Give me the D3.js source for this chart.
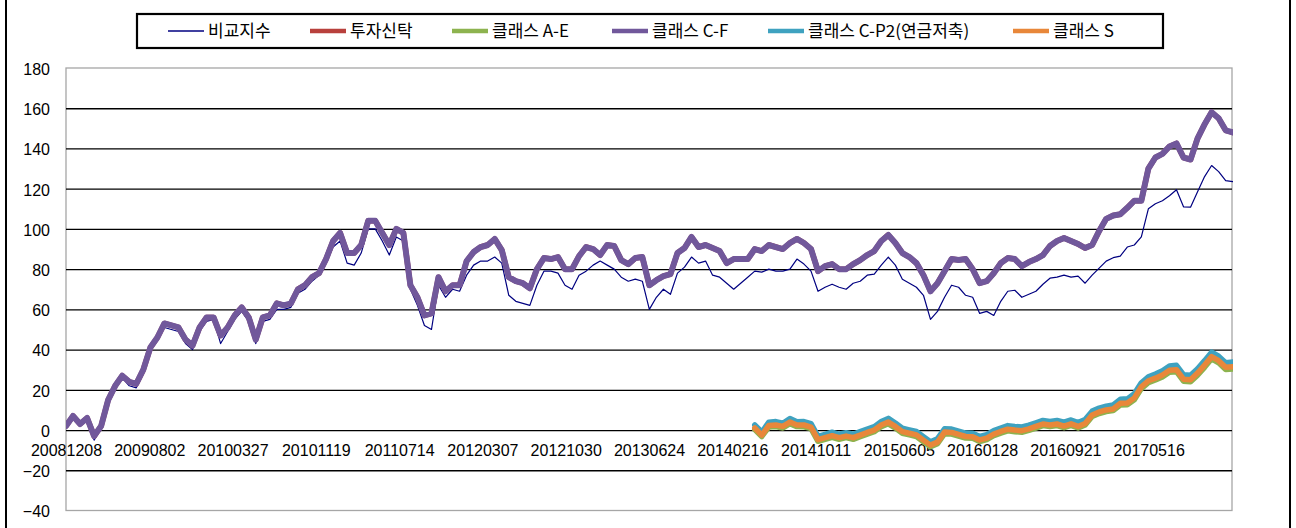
<!DOCTYPE html>
<html><head><meta charset="utf-8">
<script src="https://cdn.jsdelivr.net/npm/d3@7"></script>
<style>
html,body{margin:0;padding:0;background:#fff;}
svg{display:block;}
</style></head>
<body>
<svg id="chart" width="1296" height="528"></svg>
<script>
// ---------- DATA ----------
const startDate = "2008-12-08";      // first observation
const sampleStepDays = 20;           // spacing of the sampled observations
const axisSpanDays = 3318;           // span of the category axis
const tickLabels = ["20081208","20090802","20100327","20101119","20110714","20120307","20121030","20130624","20140216","20141011","20150605","20160128","20160921","20170516"];
const yTicks = [-40,-20,0,20,40,60,80,100,120,140,160,180];

const seriesNames = ["비교지수","투자신탁","클래스 A-E","클래스 C-F","클래스 C-P2(연금저축)","클래스 S"];

// 비교지수 (benchmark)
const benchmark = [
 1, 6, 2, 5, -5, 1, 13, 21, 26, 22,
 21, 28, 40, 45, 51, 50, 49, 43, 40, 49,
 54, 55, 43, 49, 55, 59, 54, 43, 54, 55,
 60, 60, 61, 68, 70, 74, 77, 83, 91, 94,
 83, 82, 88, 100, 100, 94, 87, 96, 94, 70,
 62, 52, 50, 72, 66, 70, 69, 77, 82, 84,
 84, 86, 83, 67, 64, 63, 62, 72, 79, 79,
 78, 72, 70, 77, 79, 82, 84, 82, 80, 76,
 74, 75, 74, 60, 66, 70, 67.5, 78, 81, 86,
 83, 84, 77, 76, 73, 70, 73, 76, 79, 78.5,
 80, 79, 79, 80, 85, 82.5, 79, 69, 71, 72.5,
 71, 70, 73, 74, 77, 77.5, 82, 86, 82, 75,
 73, 71, 67, 55, 59, 66, 72, 71, 67, 66,
 58, 59, 57, 64, 69, 69.5, 66, 67.5, 69, 72.5,
 75.5, 76, 77, 76, 76.5, 73, 77, 80.5, 84, 85.7,
 86.5, 91, 92, 96, 110, 112.5, 114, 116.5, 119.5, 111,
 110.8, 118.5, 126, 131.5, 128.5, 124, 123.5
];
// 투자신탁 (lies under 클래스 C-F)
const trust = [
 2, 7, 3, 6, -3, 2, 15, 22, 27, 24,
 23, 30, 41, 46, 53, 52, 51, 45, 42, 51,
 56, 56, 47, 51, 57, 61, 56, 45, 56, 57,
 63, 62, 63, 70, 72, 76, 78, 85, 94, 98,
 88, 88, 92, 104, 104, 98, 92, 100, 98, 72,
 66, 57, 58, 76, 69, 72, 72, 84, 88.5, 91,
 92, 95, 89.5, 76, 74, 73, 70.5, 80, 85.5, 85,
 86, 80, 80, 86.5, 91, 90, 87, 92, 91.5, 84.5,
 82.5, 85.5, 86, 72, 74.5, 76.5, 77.5, 88, 90.5, 96,
 91, 92, 90.5, 89, 83, 85, 85, 85, 90, 89,
 92, 91, 90, 93, 95, 93, 90, 79, 81.5, 82.5,
 80, 80, 82.5, 84.5, 87, 89, 94, 97, 93, 88,
 86, 83, 77, 69, 73, 79, 85, 84.5, 85, 80,
 73, 74, 78, 83, 85.5, 85, 81.5, 83.5, 85, 87,
 91.5, 94, 95.5, 94, 92.5, 90.5, 92, 99, 105, 106.7,
 107.3, 110.5, 114, 114, 130, 135.5, 137.3, 141, 142.5, 135.5,
 134.5, 145, 152, 158, 155, 149, 148
];
// 클래스 C-F
const classCF = [
 2, 7, 3, 6, -3, 2, 15, 22, 27, 24,
 23, 30, 41, 46, 53, 52, 51, 45, 42, 51,
 56, 56, 47, 51, 57, 61, 56, 45, 56, 57,
 63, 62, 63, 70, 72, 76, 78, 85, 94, 98,
 88, 88, 92, 104, 104, 98, 92, 100, 98, 72,
 66, 57, 58, 76, 69, 72, 72, 84, 88.5, 91,
 92, 95, 89.5, 76, 74, 73, 70.5, 80, 85.5, 85,
 86, 80, 80, 86.5, 91, 90, 87, 92, 91.5, 84.5,
 82.5, 85.5, 86, 72, 74.5, 76.5, 77.5, 88, 90.5, 96,
 91, 92, 90.5, 89, 83, 85, 85, 85, 90, 89,
 92, 91, 90, 93, 95, 93, 90, 79, 81.5, 82.5,
 80, 80, 82.5, 84.5, 87, 89, 94, 97, 93, 88,
 86, 83, 77, 69, 73, 79, 85, 84.5, 85, 80,
 73, 74, 78, 83, 85.5, 85, 81.5, 83.5, 85, 87,
 91.5, 94, 95.5, 94, 92.5, 90.5, 92, 99, 105, 106.7,
 107.3, 110.5, 114, 114, 130, 135.5, 137.3, 141, 142.5, 135.5,
 134.5, 145, 152, 158, 155, 149, 148
];
// newer classes start later (sample number 98)
const newClassFirstSample = 98;
const classAE = [
 0.3, -3.2, 1.5, 1.7, 1, 3.2, 1.7, 1.6, 0.7, -5.6,
 -4.6, -3.6, -4.6, -3.8, -4.6, -3.3, -2, -0.8, 1.7, 3.1,
 1, -1.6, -2.4, -3.2, -5.8, -8.3, -6.8, -1.8, -2, -3,
 -4, -4.1, -5.7, -4.8, -2.8, -1.5, -0.4, -0.8, -1.1, -0.2,
 1, 2.2, 1.7, 2.2, 1.2, 2.3, 1, 2.5, 6.7, 8.2,
 9.2, 9.7, 12.4, 12.6, 15.1, 20.6, 23.6, 24.9, 26.4, 28.7,
 29, 24.3, 24, 27.3, 31.2, 35.4, 33.4, 30.1, 30.4
];
const classCP2 = [
 2.5, -1, 3.9, 4.2, 3.4, 5.7, 4.1, 4.2, 3.2, -3.1,
 -2.1, -1.1, -2.1, -1.3, -2.1, -0.8, 0.5, 1.7, 4.2, 5.8,
 3.5, 0.9, 0.1, -0.7, -3.3, -5.8, -4.3, 0.6, 0.5, -0.5,
 -1.5, -1.6, -3.2, -2.3, -0.3, 1, 2.2, 1.8, 1.5, 2.4,
 3.6, 4.8, 4.3, 4.8, 3.9, 5, 3.7, 5.2, 9.4, 10.9,
 11.9, 12.5, 15.3, 15.5, 18, 23.5, 26.5, 27.9, 29.5, 31.8,
 32.2, 27.5, 27.2, 30.5, 34.5, 38.7, 36.7, 33.5, 33.8
];
const classS = [
 1, -2.5, 2.3, 2.5, 1.8, 4, 2.5, 2.5, 1.5, -4.8,
 -3.8, -2.8, -3.8, -3, -3.8, -2.5, -1.2, 0, 2.5, 4,
 1.8, -0.8, -1.6, -2.4, -5, -7.5, -6, -1, -1.2, -2.2,
 -3.2, -3.3, -4.9, -4, -2, -0.7, 0.4, 0, -0.3, 0.6,
 1.8, 3, 2.5, 3, 2, 3.1, 1.8, 3.3, 7.5, 9,
 10, 10.5, 13.3, 13.5, 16, 21.5, 24.5, 25.8, 27.4, 29.7,
 30, 25.3, 25, 28.3, 32.3, 36.5, 34.5, 31.2, 31.5
];

// ---------- RENDER ----------
const svg = d3.select("#chart");
const W = 1296, H = 528;
const plot = {left: 66, right: 1232, top: 68, bottom: 510.5};
const t0 = d3.utcParse("%Y-%m-%d")(startDate);
const fmt = d3.utcFormat("%Y%m%d");

const x = d3.scaleUtc()
  .domain([t0, d3.utcDay.offset(t0, axisSpanDays)])
  .range([plot.left, plot.right]);
const y = d3.scaleLinear().domain([-40, 180]).range([plot.bottom, plot.top]);

svg.append("rect").attr("width", W).attr("height", H).attr("fill", "#fff");
// outer chart border
svg.append("line").attr("x1", 6).attr("x2", 6).attr("y1", 0).attr("y2", H).attr("stroke", "#000").attr("stroke-width", 2);
svg.append("line").attr("x1", 1290).attr("x2", 1290).attr("y1", 0).attr("y2", H).attr("stroke", "#000").attr("stroke-width", 2);

// plot area border
svg.append("rect").attr("x", plot.left).attr("y", plot.top)
  .attr("width", plot.right - plot.left).attr("height", plot.bottom - plot.top)
  .attr("fill", "none").attr("stroke", "#a6a6a6").attr("stroke-width", 1.3);

const axisFont = "'Liberation Sans', Arial, sans-serif";
// y axis labels
const yAxis = d3.axisLeft(y).tickValues(yTicks).tickSize(0).tickPadding(16);
const gy = svg.append("g").attr("transform", `translate(${plot.left},0)`).call(yAxis);
gy.select(".domain").remove();
gy.selectAll("text").attr("font-family", axisFont)
  .attr("font-size", 16).attr("fill", "#000").attr("dy", "0.4em");

// gridlines
const grid = d3.axisLeft(y).tickValues(yTicks.filter(v => v > -40 && v < 180))
  .tickSize(-(plot.right - plot.left)).tickFormat("");
const gg = svg.append("g").attr("transform", `translate(${plot.left},0)`).call(grid);
gg.select(".domain").remove();
gg.selectAll("line").attr("stroke", "#000").attr("stroke-width", 1.3);

// x axis labels (category axis crossing at 0)
const xTickDates = tickLabels.map(s => d3.utcParse("%Y%m%d")(s));
const xAxis = d3.axisBottom(x).tickValues(xTickDates).tickFormat(fmt).tickSize(0).tickPadding(15);
const gx = svg.append("g").attr("transform", `translate(0,${y(0)})`).call(xAxis);
gx.select(".domain").remove();
gx.selectAll("text").attr("font-family", axisFont)
  .attr("font-size", 16).attr("fill", "#000").attr("dy", "0.71em");

// series
function pts(arr, first) {
  return arr.map((v, i) => ({d: d3.utcDay.offset(t0, (first + i) * sampleStepDays), v}));
}
const line = d3.line().x(p => x(p.d)).y(p => y(p.v));
svg.append("clipPath").attr("id", "pc").append("rect")
  .attr("x", plot.left).attr("y", plot.top - 5).attr("width", plot.right - plot.left + 1).attr("height", plot.bottom - plot.top + 10);

const colors = ["#000080", "#b8403c", "#8db34f", "#71589b", "#3fa2c0", "#e8873a"];
const widths = [1.2, 5.5, 5.5, 6, 5.5, 5.5];
const series = [
  pts(benchmark, 0), pts(trust, 0), pts(classAE, newClassFirstSample),
  pts(classCF, 0), pts(classCP2, newClassFirstSample), pts(classS, newClassFirstSample)
];
const gl = svg.append("g").attr("clip-path", "url(#pc)");
series.forEach((s, k) => {
  gl.append("path").datum(s).attr("d", line).attr("fill", "none")
    .attr("stroke", colors[k]).attr("stroke-width", widths[k])
    .attr("stroke-linejoin", "round").attr("stroke-linecap", "round");
});

// legend
const lg = svg.append("g");
lg.append("rect").attr("x", 137).attr("y", 14).attr("width", 1026).attr("height", 34)
  .attr("fill", "#fff").attr("stroke", "#000").attr("stroke-width", 2.2);
const legendX = [168, 310, 452, 612, 768, 1013];
seriesNames.forEach((name, k) => {
  const g = lg.append("g").attr("transform", `translate(${legendX[k]},31)`);
  g.append("line").attr("x1", 0).attr("x2", 36).attr("y1", 0).attr("y2", 0)
    .attr("stroke", colors[k]).attr("stroke-width", k === 0 ? 1.3 : 4.5);
  g.append("text").attr("x", 40).attr("y", 0).attr("dy", "0.36em")
    .attr("font-family", "'Noto Sans CJK KR', 'Noto Sans', sans-serif")
    .attr("font-size", 17).attr("fill", "#000").text(name);
});
</script>
</body></html>
